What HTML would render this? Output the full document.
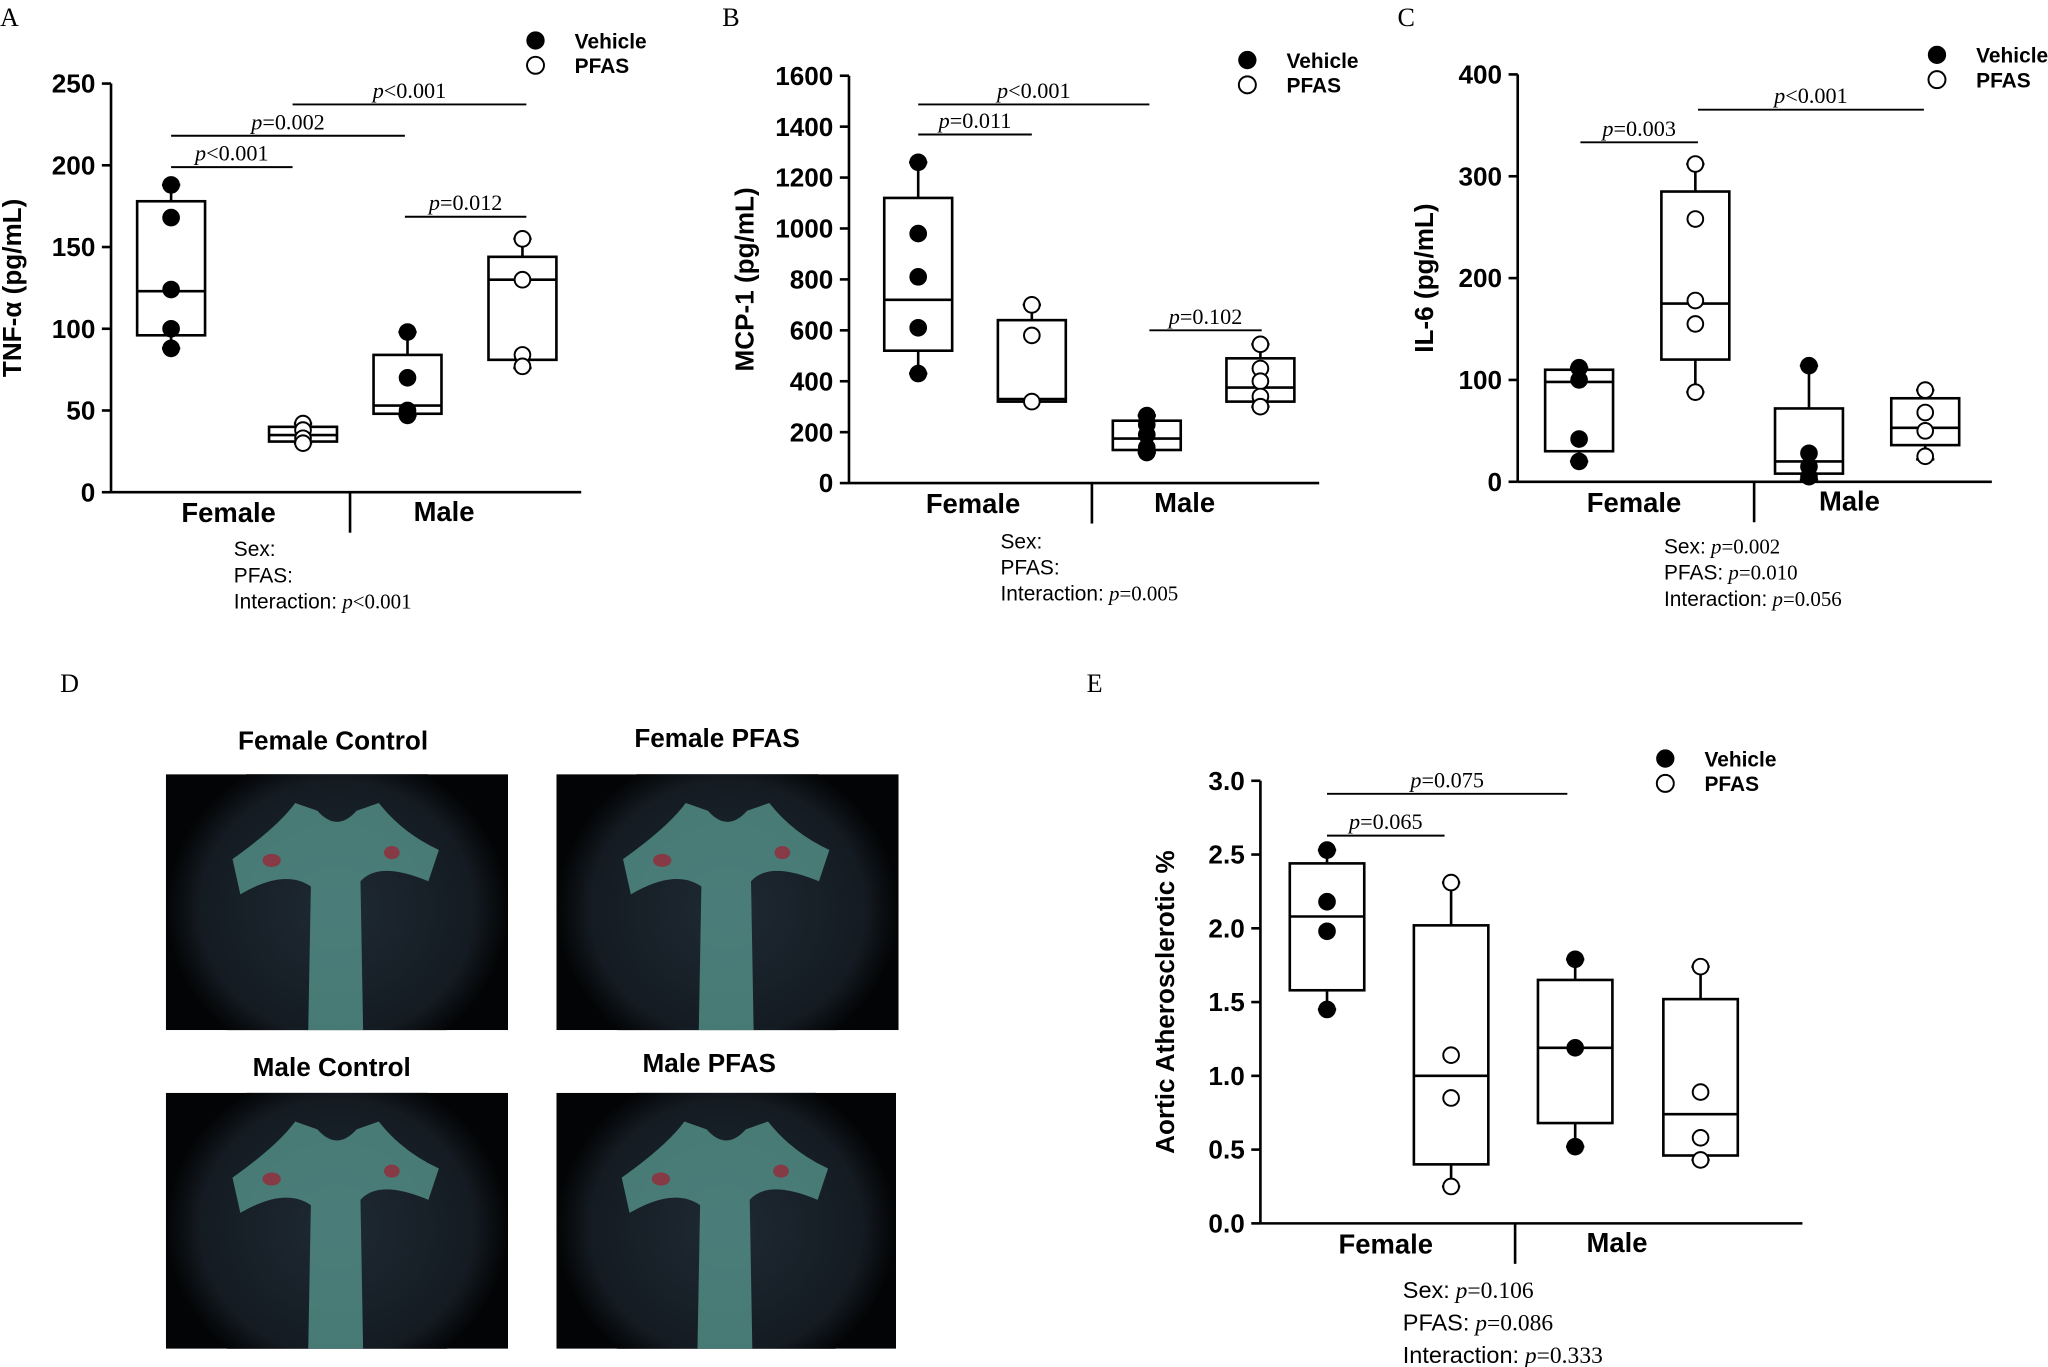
<!DOCTYPE html>
<html><head><meta charset="utf-8"><style>
html,body{margin:0;padding:0;background:#fff;}
svg{display:block;}
.t{font-family:"Liberation Sans",sans-serif;font-weight:bold;fill:#000;}
.n{font-family:"Liberation Sans",sans-serif;fill:#000;}
.s{font-family:"Liberation Serif",serif;fill:#000;}
</style></head><body>
<svg id="fig" width="2048" height="1367" viewBox="0 0 1568 1047" preserveAspectRatio="none" xmlns="http://www.w3.org/2000/svg">
<rect width="1568" height="1047" fill="#fff"/>
</svg>
<script>
// Panel A: TNF-alpha
const aGroups=["Female Vehicle","Female PFAS","Male Vehicle","Male PFAS"];
const aBoxes=[[88,96,123,178,188],[30,31,35,40,42],[47,48,53,84,98],[76,81,130,144,155]];
const aPoints=[[188,168,124,100,88],[42,38,33,30],[98,70,50,47],[155,130,84,77]];
const aTicks=[0,50,100,150,200,250];
// Panel B: MCP-1
const bBoxes=[[430,520,720,1120,1260],[320,320,330,640,700],[120,130,175,245,265],[300,320,375,490,545]];
const bPoints=[[1260,980,810,610,430],[700,580,320],[265,230,190,140,120],[545,450,400,340,300]];
const bTicks=[0,200,400,600,800,1000,1200,1400,1600];
// Panel C: IL-6
const cBoxes=[[20,30,98,110,112],[88,120,175,285,312],[2,8,20,72,114],[22,36,53,82,90]];
const cPoints=[[112,100,42,20],[312,258,178,155,88],[114,28,15,5],[90,68,50,25]];
const cTicks=[0,100,200,300,400];
// Panel E: Aortic atherosclerotic %
const eBoxes=[[1.45,1.58,2.08,2.44,2.53],[0.25,0.40,1.00,2.02,2.31],[0.52,0.68,1.19,1.65,1.79],[0.43,0.46,0.74,1.52,1.74]];
const ePoints=[[2.53,2.18,1.98,1.45],[2.31,1.14,0.85,0.25],[1.79,1.19,0.52],[1.74,0.89,0.58,0.43]];
const eTicks=["0.0","0.5","1.0","1.5","2.0","2.5","3.0"];

const NS="http://www.w3.org/2000/svg";
const svg=document.getElementById('fig');
function el(tag,attrs,parent,text){const e=document.createElementNS(NS,tag);for(const k in attrs)e.setAttribute(k,attrs[k]);if(text!==undefined)e.textContent=text;(parent||svg).appendChild(e);return e;}

function panel(cfg){
  const g=el('g',{});
  
  
  const y=v=>cfg.y0-(v-cfg.min)/(cfg.max-cfg.min)*(cfg.y0-cfg.y1);
  el('line',{x1:cfg.ax,y1:cfg.y1,x2:cfg.ax,y2:cfg.y0,stroke:'#000','stroke-width':2},g);
  el('line',{x1:cfg.ax,y1:cfg.y0,x2:cfg.axR,y2:cfg.y0,stroke:'#000','stroke-width':2},g);
  el('line',{x1:cfg.div,y1:cfg.y0,x2:cfg.div,y2:cfg.y0+31,stroke:'#000','stroke-width':2},g);
  cfg.ticks.forEach(t=>{const v=parseFloat(t);const ty=y(v);
    el('line',{x1:cfg.ax-7,y1:ty,x2:cfg.ax,y2:ty,stroke:'#000','stroke-width':2},g);
    const tx=el('text',{x:cfg.ax-12,y:ty+7,'text-anchor':'end',class:'t','font-size':20},g,String(t));
    
    
  });
  const yt=el('text',{x:0,y:0,class:'t','font-size':20,'text-anchor':'middle',transform:`translate(${cfg.ytx},${(cfg.y0+cfg.y1)/2}) rotate(-90)`},g,cfg.ylabel);
  
  
  const fl=el('text',{x:cfg.fx,y:cfg.y0+23,class:'t','font-size':21,'text-anchor':'middle'},g,'Female');
  
  
  const ml=el('text',{x:cfg.mx,y:cfg.y0+22,class:'t','font-size':21,'text-anchor':'middle'},g,'Male');
  
  
  cfg.boxes.forEach((b,i)=>{
    const cx=cfg.cx[i],w=cfg.bw/2;
    const bg=el('g',{},g);
    
    
    el('line',{x1:cx,y1:y(b[0]),x2:cx,y2:y(b[1]),stroke:'#000','stroke-width':2},bg);
    el('line',{x1:cx,y1:y(b[3]),x2:cx,y2:y(b[4]),stroke:'#000','stroke-width':2},bg);
    el('line',{x1:cx-7,y1:y(b[0]),x2:cx+7,y2:y(b[0]),stroke:'#000','stroke-width':2},bg);
    el('line',{x1:cx-7,y1:y(b[4]),x2:cx+7,y2:y(b[4]),stroke:'#000','stroke-width':2},bg);
    el('rect',{x:cx-w,y:y(b[3]),width:2*w,height:y(b[1])-y(b[3]),fill:'none',stroke:'#000','stroke-width':2},bg);
    el('line',{x1:cx-w,y1:y(b[2]),x2:cx+w,y2:y(b[2]),stroke:'#000','stroke-width':2},bg);
    cfg.points[i].forEach(p=>{
      const c=el('circle',{cx:cx,cy:y(p),r:6,fill:(i%2==0)?'#000':'#fff',stroke:'#000','stroke-width':1.5},bg);
      
      
    });
  });
  cfg.brackets.forEach(br=>{
    el('line',{x1:br[0],y1:br[2],x2:br[1],y2:br[2],stroke:'#000','stroke-width':1.5},g);
    const t=el('text',{x:(br[0]+br[1])/2,y:br[2]-5,class:'s','font-size':17,'text-anchor':'middle'},g);
    
    
    el('tspan',{'font-style':'italic'},t,'p');
    el('tspan',{},t,br[3]);
  });
  const lg=el('g',{},g);
  
  
  el('circle',{cx:cfg.lx,cy:cfg.ly,r:6.5,fill:'#000',stroke:'#000'},lg);
  el('circle',{cx:cfg.lx,cy:cfg.ly+19,r:6.5,fill:'#fff',stroke:'#000','stroke-width':1.5},lg);
  el('text',{x:cfg.lx+30,y:cfg.ly+6,class:'t','font-size':16},lg,'Vehicle');
  el('text',{x:cfg.lx+30,y:cfg.ly+25,class:'t','font-size':16},lg,'PFAS');
  const st=el('g',{},g);
  
  
  cfg.stats.forEach((s,k)=>{
    const t=el('text',{x:cfg.sx,y:cfg.sy+k*cfg.sdy,class:'n','font-size':cfg.sfs},st,s[0]);
    if(s[1]){el('tspan',{class:'s','font-style':'italic'},t,' p');el('tspan',{class:'s'},t,s[1]);}
  });
  el('text',{x:cfg.letter[0],y:cfg.letter[1],class:'s','font-size':20},g,cfg.letter[2]);
}

panel({name:'panel-a-tnf',ax:85,axR:445,y0:377,y1:64,min:0,max:250,ticks:aTicks,ytx:16,ylabel:'TNF-α (pg/mL)',
  fx:175,mx:340,div:268,cx:[131,232,312,400],bw:52,boxes:aBoxes,points:aPoints,
  brackets:[[131,224,128,'<0.001'],[131,310,104,'=0.002'],[224,403,80,'<0.001'],[310,403,166,'=0.012']],
  lx:410,ly:31,stats:[['Sex:'],['PFAS:'],['Interaction:','<0.001']],sx:179,sy:426,sdy:20,sfs:16,letter:[0,20,'A']});
panel({name:'panel-b-mcp1',ax:650,axR:1010,y0:370,y1:58,min:0,max:1600,ticks:bTicks,ytx:577,ylabel:'MCP-1 (pg/mL)',
  fx:745,mx:907,div:836,cx:[703,790,878,965],bw:52,boxes:bBoxes,points:bPoints,
  brackets:[[703,790,103,'=0.011'],[703,880,80,'<0.001'],[880,966,253,'=0.102']],
  lx:955,ly:46,stats:[['Sex:'],['PFAS:'],['Interaction:','=0.005']],sx:766,sy:420,sdy:20,sfs:16,letter:[553,20,'B']});
panel({name:'panel-c-il6',ax:1162,axR:1525,y0:369,y1:57,min:0,max:400,ticks:cTicks,ytx:1097,ylabel:'IL-6 (pg/mL)',
  fx:1251,mx:1416,div:1343,cx:[1209,1298,1385,1474],bw:52,boxes:cBoxes,points:cPoints,
  brackets:[[1210,1300,109,'=0.003'],[1300,1473,84,'<0.001']],
  lx:1483,ly:42,stats:[['Sex:','=0.002'],['PFAS:','=0.010'],['Interaction:','=0.056']],sx:1274,sy:424,sdy:20,sfs:16,letter:[1070,20,'C']});
panel({name:'panel-e-aortic',ax:965,axR:1380,y0:937,y1:598,min:0,max:3,ticks:eTicks,ytx:899,ylabel:'Aortic Atherosclerotic %',
  fx:1061,mx:1238,div:1160,cx:[1016,1111,1206,1302],bw:57,boxes:eBoxes,points:ePoints,
  brackets:[[1016,1106,640,'=0.065'],[1016,1200,608,'=0.075']],
  lx:1275,ly:581,stats:[['Sex:','=0.106'],['PFAS:','=0.086'],['Interaction:','=0.333']],sx:1074,sy:994,sdy:25,sfs:18,letter:[832,530,'E']});

// Panel D images
el('text',{x:46,y:530,class:'s','font-size':20},svg,'D');
const dTitles=["Female Control","Female PFAS","Male Control","Male PFAS"];
const dRects=[[127,593,262,196,255,574],[426,593,262,196,549,572],[127,837,262,196,254,824],[426,837,260,196,543,821]];
const defs=el('defs',{});
const rg=el('radialGradient',{id:'vig',cx:'50%',cy:'50%',r:'50%'},defs);
el('stop',{offset:'0%','stop-color':'#1f2a33'},rg);el('stop',{offset:'80%','stop-color':'#141b22'},rg);el('stop',{offset:'100%','stop-color':'#030405'},rg);
dTitles.forEach((t,i)=>{
  const [x,y,w,h,tx,ty]=dRects[i];
  const cp=el('clipPath',{id:'cp'+i},defs);
  el('rect',{x:x,y:y,width:w,height:h},cp);
  const g=el('g',{});
  
  
  const inner=el('g',{'clip-path':`url(#cp${i})`},g);
  el('rect',{x:x,y:y,width:w,height:h,fill:'#030405'},inner);
  el('ellipse',{cx:x+w/2,cy:y+h/2+5,rx:w*0.5,ry:h*0.62,fill:'url(#vig)'},inner);
  const cx=x+w/2;
  el('path',{d:`M${cx-80},${y+65} Q${cx-45},${y+40} ${cx-32},${y+22} L${cx-15},${y+28} Q${cx},${y+45} ${cx+15},${y+28} L${cx+32},${y+22} Q${cx+50},${y+45} ${cx+78},${y+58} L${cx+70},${y+82} Q${cx+32},${y+66} ${cx+18},${y+82} L${cx+20},${y+h} L${cx-22},${y+h} L${cx-20},${y+86} Q${cx-40},${y+72} ${cx-74},${y+92} Z`,fill:'#5a9a92',opacity:0.75},inner);
  el('ellipse',{cx:cx-50,cy:y+66,rx:7,ry:5,fill:'#a02030',opacity:0.7},inner);
  el('ellipse',{cx:cx+42,cy:y+60,rx:6,ry:5,fill:'#a02030',opacity:0.7},inner);
  const tt=el('text',{x:tx,y:ty,class:'t','font-size':20,'text-anchor':'middle'},g,t);
  
  
});
</script>
</body></html>
